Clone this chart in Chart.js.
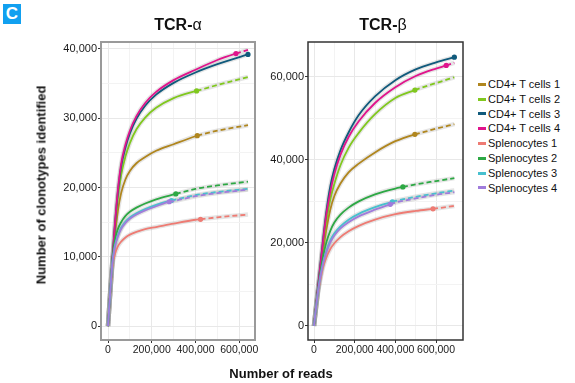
<!DOCTYPE html>
<html>
<head>
<meta charset="utf-8">
<script src="https://cdn.jsdelivr.net/npm/chart.js@4/dist/chart.umd.min.js"></script>
<style>
  html, body { margin: 0; padding: 0; background: #fff; }
  #wrap { position: relative; width: 575px; height: 383px; overflow: hidden; font-family: "Liberation Sans", Arial, sans-serif; color: #111; }
  canvas { position: absolute; top: 0; }
  .abs { position: absolute; white-space: nowrap; }
  #tag { left: 3px; top: 4px; width: 18px; height: 20px; background: #11a0f0; color: #fff; font-weight: bold; font-size: 17px; line-height: 20px; text-align: center; }
  .ptitle { top: 16px; font-size: 16px; transform: translateX(-50%); }
  .ptitle b { font-weight: bold; }
  #ytitle { left: 40.5px; top: 185px; font-weight: bold; font-size: 13px; transform: translate(-50%, -50%) rotate(-90deg); }
  #xtitle { left: 281px; top: 373px; font-weight: bold; font-size: 13px; transform: translate(-50%, -50%); }
  #legend { left: 478px; top: 77px; font-size: 11px; }
  .li { height: 14.8px; line-height: 14.8px; display: flex; align-items: center; }
  .key { width: 8px; height: 3px; margin-right: 2px; }
</style>
</head>
<body>
<div id="wrap">
  <canvas id="cA" width="262" height="383" style="left:0px"></canvas>
  <canvas id="cB" width="208" height="383" style="left:262px"></canvas>
  <div id="tag" class="abs">C</div>
  <div class="abs ptitle" style="left:178px"><b>TCR-</b>α</div>
  <div class="abs ptitle" style="left:383px"><b>TCR-</b>β</div>
  <div id="ytitle" class="abs">Number of clonotypes identified</div>
  <div id="xtitle" class="abs">Number of reads</div>
  <div id="legend" class="abs"></div>
</div>
<script>
// ---------- data ----------
const seriesNames = ["CD4+ T cells 1", "CD4+ T cells 2", "CD4+ T cells 3", "CD4+ T cells 4",
                     "Splenocytes 1", "Splenocytes 2", "Splenocytes 3", "Splenocytes 4"];
const seriesColors = ["#b0861e", "#80c81e", "#105a7c", "#e0148c",
                      "#ee7b73", "#2da844", "#48c0cf", "#a07cdc"];

// TCR-alpha: number of reads grid and clonotype counts
const alphaReads = [0, 10000, 20000, 30000, 45000, 60000, 80000, 100000, 130000, 170000, 220000, 300000, 400000, 500000, 640000];
const alphaCD4_1 = [0, 4700, 8900, 12700, 16600, 19200, 21200, 22400, 23500, 24400, 25300, 26250, 27400, 28200, 29000];
const alphaCD4_2 = [0, 4800, 9300, 13600, 18500, 21800, 24500, 26400, 28400, 30100, 31500, 32900, 33900, 34800, 35950];
const alphaCD4_3 = [0, 4800, 9500, 13900, 19300, 23000, 25800, 27800, 29900, 31800, 33400, 35100, 36600, 37800, 39200];
const alphaCD4_4 = [0, 4800, 9500, 14100, 19600, 23400, 26200, 28200, 30300, 32200, 33800, 35500, 37000, 38400, 39850];
const alphaSpl_1 = [0, 4700, 8700, 10200, 11500, 12200, 12800, 13200, 13600, 14000, 14300, 14800, 15350, 15700, 16100];
const alphaSpl_2 = [0, 4800, 9500, 12200, 14000, 15000, 15900, 16500, 17100, 17700, 18300, 19000, 19800, 20300, 20850];
const alphaSpl_3 = [0, 4800, 9200, 11400, 13100, 14200, 15100, 15700, 16300, 16900, 17500, 18200, 18900, 19350, 19800];
const alphaSpl_4 = [0, 4800, 9100, 11200, 12900, 14000, 14900, 15500, 16100, 16700, 17300, 18050, 18750, 19200, 19700];
// observed sample (reads, clonotypes) per series
const alphaObsReads  = [408000, 405000, 640000, 585000, 423000, 310000, 290000, 280000];
const alphaObsCounts = [27480, 33940, 39200, 39330, 15420, 19080, 18130, 17950];

// TCR-beta
const betaReads = [0, 10000, 20000, 30000, 45000, 60000, 80000, 100000, 130000, 170000, 220000, 300000, 400000, 500000, 600000, 690000];
const betaCD4_1 = [0, 4500, 8800, 12800, 18300, 23000, 28000, 31300, 34300, 37000, 39100, 41800, 44500, 46200, 47500, 48600];
const betaCD4_2 = [0, 4700, 9200, 13500, 19800, 25000, 30500, 34200, 38700, 42900, 46500, 51000, 54900, 56900, 58500, 59900];
const betaCD4_3 = [0, 4800, 9500, 14200, 21000, 27300, 33600, 37800, 42300, 46600, 50800, 55300, 59200, 61800, 63500, 64750];
const betaCD4_4 = [0, 4800, 9400, 14000, 20600, 26600, 32300, 36600, 41200, 45500, 49300, 53700, 57500, 60200, 62000, 63400];
const betaSpl_1 = [0, 4300, 8000, 10800, 14200, 16400, 18500, 19900, 21400, 22800, 24100, 25600, 26900, 27700, 28300, 28900];
const betaSpl_2 = [0, 4500, 8700, 12300, 16800, 20000, 22900, 24900, 26800, 28500, 30000, 31700, 33100, 34100, 34900, 35600];
const betaSpl_3 = [0, 4400, 8400, 11600, 15400, 18000, 20600, 22300, 24000, 25600, 27000, 28600, 30100, 31100, 31950, 32600];
const betaSpl_4 = [0, 4400, 8300, 11400, 15000, 17600, 20100, 21800, 23500, 25000, 26400, 28000, 29700, 30700, 31600, 32200];
const betaObsReads  = [496000, 496000, 690000, 650000, 585000, 437000, 385000, 375000];
const betaObsCounts = [46150, 56820, 64750, 62750, 28210, 33470, 29880, 29280];

// axis ticks
const alphaYTicks = [0, 10000, 20000, 30000, 40000];
const betaYTicks  = [0, 20000, 40000, 60000];
const xTicks      = [0, 200000, 400000, 600000];

const alphaSeries = [alphaCD4_1, alphaCD4_2, alphaCD4_3, alphaCD4_4, alphaSpl_1, alphaSpl_2, alphaSpl_3, alphaSpl_4];
const betaSeries  = [betaCD4_1, betaCD4_2, betaCD4_3, betaCD4_4, betaSpl_1, betaSpl_2, betaSpl_3, betaSpl_4];

// ---------- build ----------
function buildPoints(reads, counts, obsX, obsY) {
  const pts = [];
  let inserted = false;
  for (let i = 0; i < reads.length; i++) {
    if (!inserted && reads[i] >= obsX) {
      pts.push({x: obsX, y: obsY, obs: true});
      inserted = true;
      if (reads[i] === obsX) continue;
    }
    pts.push({x: reads[i], y: counts[i]});
  }
  if (!inserted) pts.push({x: obsX, y: obsY, obs: true});
  return pts;
}

function makeDatasets(reads, series, obsR, obsC) {
  const lines = [], halos = [];
  series.forEach((counts, i) => {
    const pts = buildPoints(reads, counts, obsR[i], obsC[i]);
    const ox = obsR[i];
    lines.push({
      label: seriesNames[i], data: pts, borderColor: seriesColors[i], backgroundColor: seriesColors[i],
      borderWidth: 1.8, cubicInterpolationMode: 'monotone', order: -i,
      pointRadius: c => (c.raw && c.raw.obs) ? 2.6 : 0, pointBorderWidth: 0,
      segment: { borderDash: c => c.p0.parsed.x >= ox ? [5, 3] : undefined }
    });
    halos.push({
      label: '', data: pts, borderColor: 'rgba(150,150,150,0.25)', borderWidth: 4.5,
      cubicInterpolationMode: 'monotone', pointRadius: 0, order: 100
    });
  });
  return lines.concat(halos);
}

const frame = {
  id: 'frame',
  afterDraw(chart, args, opts) {
    const a = chart.chartArea, ctx = chart.ctx;
    ctx.save();
    ctx.strokeStyle = opts.color; ctx.lineWidth = opts.width;
    ctx.strokeRect(a.left, a.top, a.right - a.left, a.bottom - a.top);
    ctx.restore();
  }
};

function makeChart(id, datasets, xr, yr, yTicks, yStep, yWidth, frameColor, frameWidth) {
  const yFont = { family: '"Liberation Sans", Arial, sans-serif', size: 11 };
  const xFont = { family: '"Liberation Sans", Arial, sans-serif', size: 10.5 };
  const xAll = [], yAll = [];
  for (let v = 0; v <= 600000; v += 100000) xAll.push(v);
  for (let v = 0; v <= yTicks[yTicks.length - 1] + 1; v += yStep / 2) yAll.push(v);
  const gridColor = (list) => c => list.includes(c.tick.value) ? '#e8e8e8' : '#f3f3f3';
  const tickColor = (list) => c => list.includes(c.tick.value) ? '#333' : 'rgba(0,0,0,0)';
  return new Chart(document.getElementById(id), {
    type: 'line',
    data: { datasets },
    plugins: [frame],
    options: {
      responsive: false, animation: false, devicePixelRatio: 1,
      layout: { padding: { left: 0, right: 7, top: 42, bottom: 0 } },
      plugins: { legend: { display: false }, tooltip: { enabled: false }, frame: { color: frameColor, width: frameWidth } },
      scales: {
        x: {
          type: 'linear', min: xr[0], max: xr[1],
          afterBuildTicks: s => { s.ticks = xAll.map(v => ({value: v})); },
          afterFit: s => { s.height = 43; },
          grid: { color: gridColor(xTicks), tickColor: tickColor(xTicks), tickLength: 3, lineWidth: 1 },
          border: { display: false },
          ticks: { autoSkip: false, maxRotation: 0, padding: 1, color: '#1a1a1a', font: xFont,
                   callback: v => xTicks.includes(v) ? v.toLocaleString('en-US') : '' }
        },
        y: {
          type: 'linear', min: yr[0], max: yr[1],
          afterBuildTicks: s => { s.ticks = yAll.map(v => ({value: v})); },
          afterFit: s => { s.width = yWidth; },
          grid: { color: gridColor(yTicks), tickColor: tickColor(yTicks), tickLength: 3, lineWidth: 1 },
          border: { display: false },
          ticks: { autoSkip: false, padding: 1, color: '#1a1a1a', font: yFont,
                   callback: v => yTicks.includes(v) ? v.toLocaleString('en-US') : '' }
        }
      }
    }
  });
}

makeChart('cA', makeDatasets(alphaReads, alphaSeries, alphaObsReads, alphaObsCounts),
          [-32000, 672000], [-2000, 41000], alphaYTicks, 10000, 101, '#9a9a9a', 2);
makeChart('cB', makeDatasets(betaReads, betaSeries, betaObsReads, betaObsCounts),
          [-29500, 732500], [-3400, 68400], betaYTicks, 20000, 46, '#333333', 1.5);

// legend
const lg = document.getElementById('legend');
seriesNames.forEach((n, i) => {
  const row = document.createElement('div');
  row.className = 'li';
  row.innerHTML = '<span class="key" style="background:' + seriesColors[i] + '"></span><span>' + n + '</span>';
  lg.appendChild(row);
});
</script>
</body>
</html>
